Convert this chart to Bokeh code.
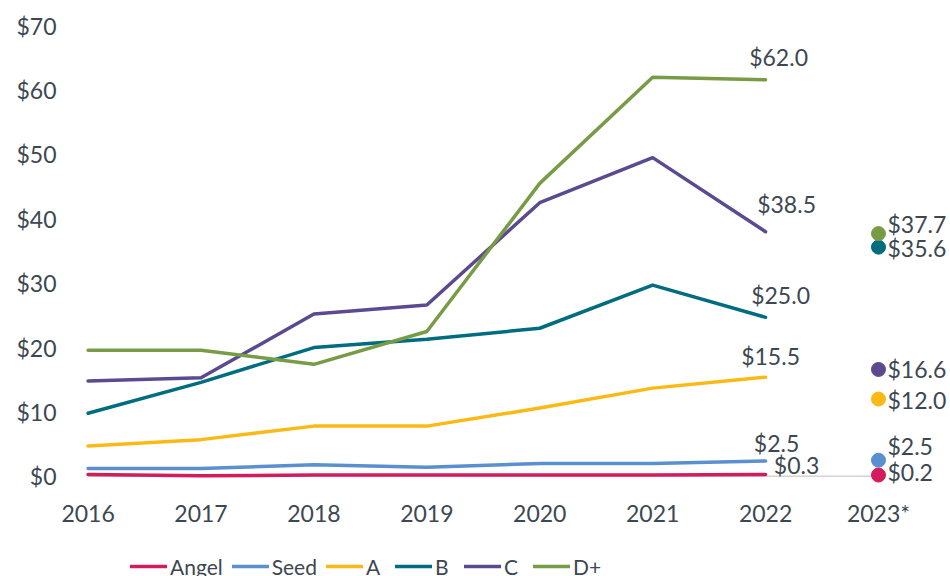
from bokeh.plotting import figure
from bokeh.layouts import column
from bokeh.models import Range1d, FixedTicker, Legend, LegendItem, ColumnDataSource
from bokeh.core.properties import value
from bokeh.embed import file_html
from bokeh.resources import INLINE

# ---------------- data ----------------
years = [2016, 2017, 2018, 2019, 2020, 2021, 2022]
forecast_year = 2023
series_names = ["Angel", "Seed", "A", "B", "C", "D+"]
angel = [0.3, 0.1, 0.2, 0.2, 0.2, 0.2, 0.3]
seed = [1.2, 1.2, 1.8, 1.4, 2.0, 2.0, 2.4]
a_round = [4.7, 5.7, 7.8, 7.8, 10.6, 13.7, 15.4]
b_round = [9.8, 14.6, 20.0, 21.3, 23.0, 29.7, 24.7]
c_round = [14.8, 15.3, 25.2, 26.6, 42.5, 49.5, 38.0]
d_round = [19.6, 19.6, 17.4, 22.5, 45.5, 62.0, 61.6]
label_2022 = [0.3, 2.5, 15.5, 25.0, 38.5, 62.0]
values_2023 = [0.2, 2.5, 12.0, 35.6, 16.6, 37.7]
x_tick_values = [2016, 2017, 2018, 2019, 2020, 2021, 2022, 2023]
x_tick_labels = ["2016", "2017", "2018", "2019", "2020", "2021", "2022", "2023*"]
y_tick_values = [0, 10, 20, 30, 40, 50, 60, 70]
y_tick_labels = ["$0", "$10", "$20", "$30", "$40", "$50", "$60", "$70"]

# ---------------- styles ----------------
colors = ["#d41c5c", "#5a8fd0", "#fbb915", "#006c80", "#5b4a8f", "#779c45"]
text_color = "#3d4751"
FONT = "Lato"
off_2022_x = [31, 11, 5, 15, 21, 13]
off_2022_y = [-9, -18, -21, -22, -28, -23]
off_2023_y = [-3, -14, 1, 1, 0, -10]

p = figure(width=948, height=530, output_backend="svg", toolbar_location=None,
           x_range=Range1d(2015.8, 2023.62), y_range=Range1d(-2.2, 70.8),
           min_border_left=65, min_border_right=0, min_border_top=20,
           min_border_bottom=40)
p.outline_line_color = None
p.grid.visible = False

# baseline
p.line([years[0], forecast_year], [0, 0], line_color="#d4d4d4", line_width=1.5)

all_series = [angel, seed, a_round, b_round, c_round, d_round]
for name, vals, col in zip(series_names, all_series, colors):
    p.line(years, vals, line_color=col, line_width=3.5, line_cap="round", line_join="round")

# 2022 labels
src22 = ColumnDataSource(dict(
    x=[years[-1]] * len(series_names),
    y=[s[-1] for s in all_series],
    t=["$%.1f" % v for v in label_2022],
    dx=off_2022_x, dy=off_2022_y))
p.text(x="x", y="y", text="t", x_offset="dx", y_offset="dy", source=src22,
       text_font=value(FONT), text_font_size="23px", text_color=text_color,
       text_align="center", text_baseline="middle")

# 2023 dots and labels
src23 = ColumnDataSource(dict(
    x=[forecast_year] * len(series_names), y=values_2023,
    t=["$%.1f" % v for v in values_2023], c=colors, dy=off_2023_y))
p.scatter(x="x", y="y", source=src23, size=14, fill_color="c", line_color="c")
p.text(x="x", y="y", text="t", x_offset=9, y_offset="dy", source=src23,
       text_font=value(FONT), text_font_size="23px", text_color=text_color,
       text_align="left", text_baseline="middle")

# axes
for ax in (p.xaxis, p.yaxis):
    ax.axis_line_color = None
    ax.major_tick_line_color = None
    ax.minor_tick_line_color = None
    ax.major_label_text_font = FONT
    ax.major_label_text_font_size = "23px"
    ax.major_label_text_color = text_color
p.xaxis.ticker = FixedTicker(ticks=x_tick_values)
p.xaxis.major_label_overrides = {v: l for v, l in zip(x_tick_values, x_tick_labels)}
p.xaxis.major_label_standoff = 2
p.yaxis.ticker = FixedTicker(ticks=y_tick_values)
p.yaxis.major_label_overrides = {v: l for v, l in zip(y_tick_values, y_tick_labels)}
p.yaxis.major_label_standoff = 3

# legend strip
pl = figure(width=948, height=46, output_backend="svg", toolbar_location=None,
            x_range=Range1d(0, 1), y_range=Range1d(0, 1),
            min_border=0, min_border_left=0, min_border_right=0,
            min_border_top=0, min_border_bottom=0)
pl.outline_line_color = None
pl.axis.visible = False
pl.grid.visible = False
items = []
for name, col in zip(series_names, colors):
    # dummy off-range renderer used only for the legend swatch
    r = pl.line(x=[-5, -4], y=[-5, -4], line_color=col, line_width=3.5, line_cap="round")
    items.append(LegendItem(label=name, renderers=[r]))
legend = Legend(items=items, orientation="horizontal", location=(65, -3),
                glyph_width=37, glyph_height=20, label_standoff=3, spacing=9,
                padding=0, margin=0, border_line_color=None,
                label_text_font=FONT, label_text_font_size="21px",
                label_height=26, label_text_baseline="middle",
                label_text_color=text_color, background_fill_alpha=0)
pl.add_layout(legend, "center")

layout = column(p, pl, spacing=0)
open("out.html", "w").write(file_html(layout, INLINE))
